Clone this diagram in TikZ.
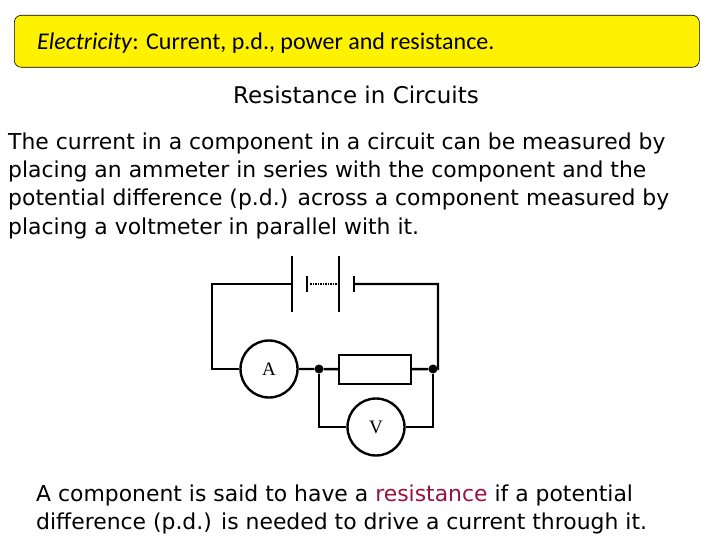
\documentclass[tikz,border=0pt]{standalone}
\usepackage{fontspec}
\setmainfont{DejaVu Sans}
\newfontfamily\carl{Carlito}
\newfontfamily\tms{Liberation Serif}
\definecolor{res}{RGB}{150,20,60}
\begin{document}
\begin{tikzpicture}[x=1pt,y=-1pt,
  body/.style={anchor=base west,inner sep=0pt,font=\fontsize{21.9}{26}\selectfont},
  wire/.style={line width=2.4pt},
  meter/.style={circle,draw,line width=2.4pt,minimum size=57pt,inner sep=0pt,font=\tms\fontsize{19}{22}\selectfont}]
\useasboundingbox (0,0) rectangle (720,540);
\node[draw,fill=yellow,rounded corners=7pt,line width=0.6pt,minimum width=685pt,minimum height=52pt,anchor=north west] (hdr) at (14,15) {};
\node[anchor=base west,inner sep=0pt,font=\carl\fontsize{24}{28}\selectfont] (ht) at (37,50) {\textit{Electricity}: Current, p.d., power and resistance.};
\node[anchor=base,inner sep=0pt,font=\fontsize{23}{26}\selectfont] (sub) at (356,104) {Resistance in Circuits};
\node[body] (l1) at (8,150) {The current in a component in a circuit can be measured by};
\node[body] (l2) at (8,178) {placing an ammeter in series with the component and the};
\node[body] (l3) at (8,206) {potential difference (p.d.) across a component measured by};
\node[body] (l4) at (8,234) {placing a voltmeter in parallel with it.};
\node[body] (l5) at (36,501) {A component is said to have a \textcolor{res}{resistance} if a potential};
\node[body] (l6) at (36,529) {difference (p.d.) is needed to drive a current through it.};
% circuit
\coordinate (tl) at (212,284); \coordinate (bl) at (212,369);
\coordinate (tr) at (438,284); \coordinate (br) at (438,369);
\coordinate (b1) at (292,284); \coordinate (b4) at (354,284);
\coordinate (s1) at (307,284); \coordinate (s2) at (339,284);
\node[meter] (A) at (269,369) {A};
\node[meter] (V) at (376,427) {V};
\node[draw,line width=2.4pt,minimum width=72pt,minimum height=29pt,inner sep=0pt] (R) at (375,369.5) {};
\node[circle,fill,inner sep=0pt,minimum size=9pt] (j1) at (319,369) {};
\node[circle,fill,inner sep=0pt,minimum size=9pt] (j2) at (433,369) {};
\draw[wire] (b1) -- (tl) -- (bl) -- (A);
\draw[wire] (A) -- (j1) -- (R) -- (j2) -- (br) -- (tr) -- (b4);
\draw[wire] (j1) |- (V) -| (j2);
\draw[wire] (292,256) -- (292,312);
\draw[wire] (339,256) -- (339,312);
\draw[wire] (307,276) -- (307,292);
\draw[wire] (354,276) -- (354,292);
\draw[line width=1.8pt,dash pattern=on 1.5pt off 1pt] (s1) ++(3,0) -- (s2);
\end{tikzpicture}
\end{document}
